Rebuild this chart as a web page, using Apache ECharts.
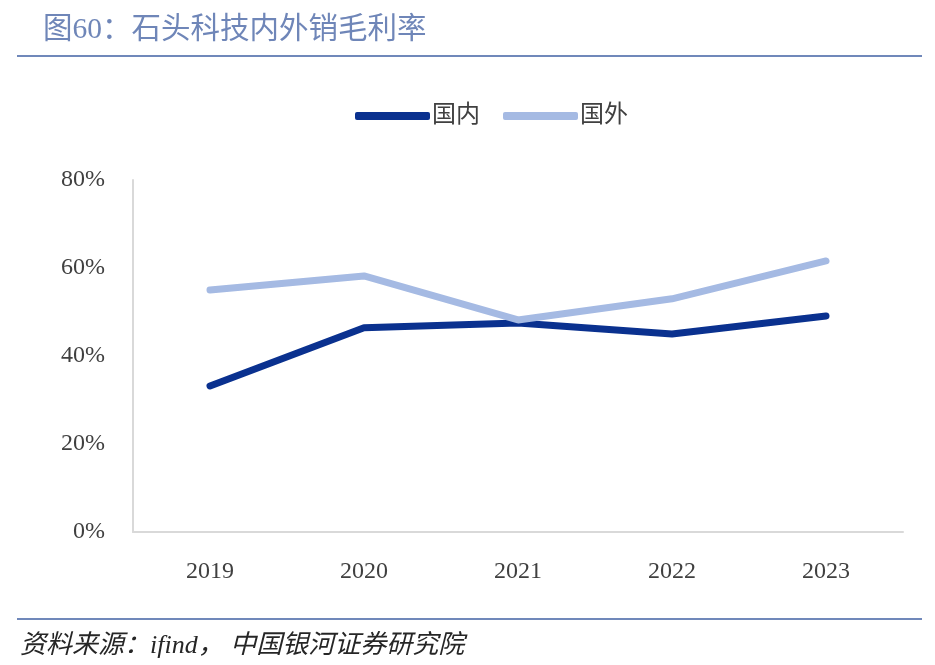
<!DOCTYPE html>
<html><head><meta charset="utf-8">
<script src="https://cdn.jsdelivr.net/npm/echarts@6/dist/echarts.min.js"></script>
<style>html,body{margin:0;padding:0;background:#fff}#c{width:935px;height:665px}</style>
</head><body><div id="c"></div>
<script>
var categories = ['2019','2020','2021','2022','2023'];
var domestic = [33.2, 46.4, 47.5, 45.0, 49.1];
var overseas = [55.0, 58.2, 48.2, 53.0, 61.6];
var yTicks = [0, 20, 40, 60, 80];
var serif = '"Liberation Serif","DejaVu Serif","Noto Sans CJK SC",serif';
var chart = echarts.init(document.getElementById('c'));
chart.setOption({
  backgroundColor: '#fff',
  animation: false,
  graphic: [
    {type:'text', left:43, top:15, style:{text:'图60：石头科技内外销毛利率', fill:'#6f86b8', font:'29.5px ' + serif}},
    {type:'rect', shape:{x:17, y:55, width:905, height:2}, style:{fill:'#7088ba'}},
    {type:'rect', shape:{x:17, y:618, width:905, height:2}, style:{fill:'#7088ba'}},
    {type:'text', left:20, top:633, style:{text:'资料来源：ifind， 中国银河证券研究院', fill:'#262626', font:'italic 26px ' + serif}}
  ],
  legend: {
    top: 99, left: 350, itemWidth: 75, itemHeight: 8, itemGap: 23,
    icon: 'roundRect',
    textStyle: {fontSize: 24, color: '#404040', fontFamily: serif, padding:[0,0,0,-3]},
    data: ['国内','国外']
  },
  grid: {left:133, right:32, top:180, bottom:133},
  xAxis: {
    type:'category', data: categories, boundaryGap: true,
    axisLine:{lineStyle:{color:'#d9d9d9', width:2}},
    axisTick:{show:false},
    axisLabel:{fontSize:24, color:'#404040', fontFamily:serif, margin:28}
  },
  yAxis: {
    type:'value', min:0, max:80, interval:20,
    axisLine:{show:true, lineStyle:{color:'#d9d9d9', width:2}},
    axisTick:{show:false},
    splitLine:{show:false},
    axisLabel:{fontSize:24, color:'#404040', fontFamily:serif, margin:28, formatter: function(v){return v+'%';}}
  },
  series: [
    {name:'国内', type:'line', data: domestic, symbol:'none', lineStyle:{width:7, color:'#0a318f', cap:'round'}, itemStyle:{color:'#0a318f'}},
    {name:'国外', type:'line', data: overseas, symbol:'none', lineStyle:{width:7, color:'#a5bae3', cap:'round'}, itemStyle:{color:'#a5bae3'}}
  ]
});
</script></body></html>
